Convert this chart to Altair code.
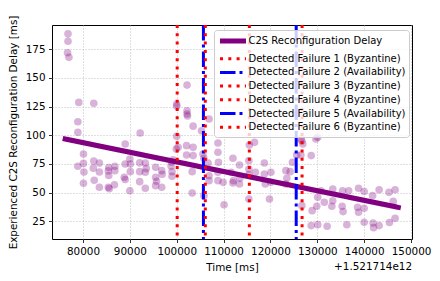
import altair as alt
import pandas as pd

# ---------------- data (time in thousands of ms, offset +1.521714e12) -------------
pt_time_k = [
    76.8, 76.8, 76.7, 77.0, 79.1, 82.3, 78.9, 78.9, 92.2, 80.1, 89.0,
    78.9, 80.1, 80.2, 80.1, 82.3, 82.2, 83.5, 83.5, 82.4, 83.5,
    85.5, 85.4, 85.5, 85.4, 85.6, 86.8, 86.8, 86.7, 89.0, 88.8, 89.0,
    90.0, 90.1, 90.1, 90.0, 92.1, 92.1, 92.1, 93.3, 93.3, 93.3, 93.5,
    95.5, 95.5, 95.5, 95.7, 96.8, 96.9, 96.8, 98.9, 99.0, 99.0, 99.2, 98.8,
    99.9, 100.3, 100.0, 100.0, 100.0, 102.2, 102.2, 102.2, 102.3, 103.5, 105.3, 106.9,
    102.1, 103.5, 103.5, 103.3, 103.3, 102.1, 105.6, 105.8, 105.8, 106.7, 106.9, 106.9,
    108.8, 108.8, 108.9, 108.8, 108.8, 109.9, 110.1, 111.6, 112.1, 112.0, 112.0,
    113.4, 113.4, 113.5, 115.4, 115.4, 115.4, 115.5, 115.4, 116.6, 116.8, 116.6,
    118.7, 118.7, 118.9, 120.1, 120.1, 119.8, 123.3, 123.3, 123.5, 124.2, 124.7,
    125.6, 125.8, 126.5, 126.5, 126.9, 126.7, 126.7, 128.7, 129.7, 130.1,
    128.9, 130.1, 129.9, 128.7, 130.1, 130.8, 131.5, 132.1, 133.3, 133.1, 133.3,
    135.4, 135.3, 135.5, 136.3, 136.7, 138.8, 138.6, 138.8, 140.0, 140.0, 140.0,
    141.8, 141.9, 142.0, 143.2, 143.2, 145.3, 146.2, 145.4, 146.6, 146.6,
]
pt_delay = [
    188.5, 182.0, 172.0, 168.0, 128.7, 127.9, 111.8, 102.6, 102.0, 83.7, 92.4,
    73.0, 75.5, 68.0, 58.2, 77.6, 71.4, 75.8, 68.0, 60.8, 54.7,
    72.0, 69.0, 65.0, 54.7, 53.5, 73.0, 69.2, 56.8, 75.0, 63.4, 61.5,
    79.4, 75.0, 68.3, 51.7, 76.0, 68.3, 59.6, 75.9, 67.8, 53.8, 71.0,
    72.1, 63.4, 56.1, 60.0, 69.2, 66.0, 54.7, 76.5, 68.3, 64.3, 78.7, 73.0,
    88.0, 89.5, 127.3, 125.3, 99.1, 143.8, 121.4, 118.6, 116.8, 108.0, 104.0, 114.2,
    91.0, 82.3, 89.5, 68.3, 49.7, 82.9, 83.7, 80.0, 47.4, 75.9, 64.8, 60.5,
    93.3, 85.2, 76.5, 67.8, 60.5, 59.0, 39.5, 67.8, 60.5, 80.0, 58.5,
    74.1, 57.6, 62.5, 70.6, 65.7, 77.9, 91.5, 44.5, 93.9, 67.8, 114.2,
    75.9, 66.3, 57.6, 67.8, 59.0, 44.5, 69.2, 57.6, 62.5, 68.3, 76.5,
    82.9, 118.6, 96.8, 82.9, 92.4, 95.3, 38.7, 82.3, 96.8, 98.3,
    34.3, 46.0, 38.2, 21.3, 22.1, 51.7, 41.6, 20.7, 53.2, 38.2, 43.0,
    51.7, 38.2, 33.5, 22.0, 51.7, 53.8, 37.3, 32.9, 51.0, 36.4, 24.2,
    47.4, 23.5, 19.5, 52.6, 21.3, 50.3, 42.5, 24.0, 52.6, 27.7,
]

series_names = [
    "C2S Reconfiguration Delay",
    "Detected Failure 1 (Byzantine)",
    "Detected Failure 2 (Availability)",
    "Detected Failure 3 (Byzantine)",
    "Detected Failure 4 (Byzantine)",
    "Detected Failure 5 (Availability)",
    "Detected Failure 6 (Byzantine)",
]
fail_names = series_names[1:]
fail_time_k = [100.1, 105.7, 115.5, 106.1, 125.5, 126.75]

fit_time_k = [76.2, 147.3]
fit_delay = [96.8, 37.2]

x_ticks = [80, 90, 100, 110, 120, 130, 140, 150]
y_ticks = [25, 50, 75, 100, 125, 150, 175]
offset_label = "+1.521714e12"

# ---------------- styles -------------
series_colors = ["#800080", "#ff0000", "#0000ff", "#ff0000", "#ff0000", "#0000ff", "#ff0000"]
dot = [3, 5.3]
dashdot = [15.5, 4, 3, 4]
series_dashes = [[1, 0], dot, dashdot, dot, dot, dashdot, dot]
series_widths = [5, 3, 3, 3, 3, 3, 3]

W, H = 360, 214
FONT = "DejaVu Sans"

pts = pd.DataFrame({"t": pt_time_k, "d": pt_delay})
fit = pd.DataFrame({"t": fit_time_k, "d": fit_delay, "s": [series_names[0]] * 2})
fails = pd.DataFrame({"t": fail_time_k, "s": fail_names})
off = pd.DataFrame({"label": [offset_label]})

xscale = alt.Scale(domain=[73.385, 150.21], nice=False, zero=False)
yscale = alt.Scale(domain=[9.6, 196.2], nice=False, zero=False)

xaxis = alt.Axis(values=x_ticks, labelExpr="format(datum.value*1000, 'd')",
                 labelOverlap=False, labelFlush=False, labelPadding=4,
                 title="Time [ms]", titleX=W / 2, titleY=31.3, titleBaseline="alphabetic",
                 titleAlign="center")
yaxis = alt.Axis(values=y_ticks, labelOverlap=False, labelFlush=False, labelPadding=3.5,
                 title="Experienced C2S Reconfiguration Delay [ms]",
                 titleX=-35.9, titleY=H / 2, titleAngle=270, titleAlign="center",
                 titleBaseline="alphabetic")

color_scale = alt.Scale(domain=series_names, range=series_colors)
dash_scale = alt.Scale(domain=series_names, range=series_dashes)
width_scale = alt.Scale(type="ordinal", domain=series_names, range=series_widths)

leg = alt.Legend(title=None)

scatter = alt.Chart(pts).mark_circle(size=58, color="#800080", opacity=0.3).encode(
    x=alt.X("t:Q", scale=xscale, axis=xaxis),
    y=alt.Y("d:Q", scale=yscale, axis=yaxis),
)

fit_line = alt.Chart(fit).mark_line(strokeCap="square").encode(
    x=alt.X("t:Q", axis=xaxis),
    y=alt.Y("d:Q", axis=yaxis),
    color=alt.Color("s:N", scale=color_scale, legend=leg, sort=series_names),
    strokeDash=alt.StrokeDash("s:N", scale=dash_scale, legend=leg, sort=series_names),
    strokeWidth=alt.StrokeWidth("s:N", scale=width_scale, legend=leg, sort=series_names),
)

rules = alt.Chart(fails).mark_rule().encode(
    x=alt.X("t:Q", axis=xaxis),
    color=alt.Color("s:N", scale=color_scale, legend=leg, sort=series_names),
    strokeDash=alt.StrokeDash("s:N", scale=dash_scale, legend=leg, sort=series_names),
    strokeWidth=alt.StrokeWidth("s:N", scale=width_scale, legend=leg, sort=series_names),
)

offset_text = alt.Chart(off).mark_text(
    align="right", baseline="alphabetic", fontSize=10.4, font=FONT, color="black"
).encode(
    x=alt.value(W), y=alt.value(H + 31.3), text="label:N"
)

chart = alt.layer(scatter, fit_line, rules, offset_text).properties(
    width=W, height=H,
    autosize=alt.AutoSizeParams(type="none"),
    padding={"left": 44, "top": 17, "right": 20, "bottom": 34},
).configure_view(
    stroke="black", strokeWidth=1
).configure_axis(
    domain=False, grid=True, gridColor="#b0b0b0", gridDash=[1, 2], gridWidth=0.8,
    tickColor="black", tickSize=3.5, tickWidth=0.8,
    labelOverlap=False, labelFlush=False,
    labelFont=FONT, labelFontSize=10.4, labelColor="black",
    titleFont=FONT, titleFontSize=10.4, titleColor="black", titleFontWeight="normal",
).configure_legend(
    orient="none", legendX=162, legendY=5,
    symbolType="M-1,0H4.2", symbolSize=100, symbolFillColor="transparent",
    labelFont=FONT, labelFontSize=10.0, labelColor="black", labelLimit=400,
    labelOffset=16, rowPadding=0.7, padding=3.5,
    fillColor="rgba(255,255,255,0.8)", strokeColor="#cccccc", cornerRadius=3,
)

chart.save("out.html", embed_options={"renderer": "svg", "actions": False})
